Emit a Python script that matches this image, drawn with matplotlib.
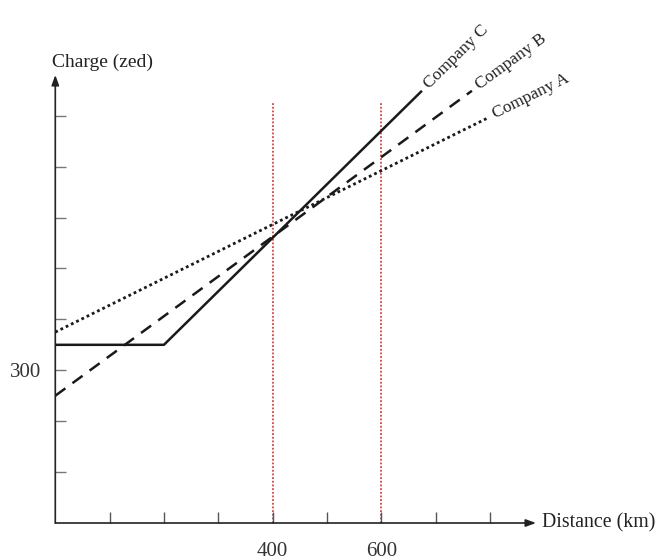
import matplotlib
matplotlib.use("Agg")
import matplotlib.pyplot as plt
import numpy as np

plt.rcParams['font.family'] = ['Liberation Serif', 'DejaVu Serif']

# Data
company_a_dist = [0, 795]
company_a_charge = [375, 795]
company_b_dist = [0, 767]
company_b_charge = [250, 849]
company_c_dist = [0, 200, 675]
company_c_charge = [350, 350, 849]
ref_distances = [400, 600]
ref_top = 825
x_ticks = [100, 200, 300, 400, 500, 600, 700, 800]
y_ticks = [100, 200, 300, 400, 500, 600, 700, 800]
x_labels = {400: "400", 600: "600"}
y_labels = {300: "300"}
labels = ["Company A", "Company B", "Company C"]

W, H = 656, 560
fig = plt.figure(figsize=(W / 100, H / 100), dpi=100)
x0, x1 = 55.3, 536
y0, y1 = 523, 75
ax = fig.add_axes([x0 / W, (H - y0) / H, (x1 - x0) / W, (y0 - y1) / H])
xmax, ymax = 885, 880
ax.set_xlim(0, xmax)
ax.set_ylim(0, ymax)

for s in ax.spines.values():
    s.set_visible(False)

# axes with arrows
ax.annotate('', xy=(1, 0), xytext=(0, 0), xycoords='axes fraction',
            arrowprops=dict(arrowstyle='-|>,head_length=0.6,head_width=0.22', color='#222222', lw=1.2,
                            shrinkA=0, shrinkB=0))
ax.annotate('', xy=(0, 1), xytext=(0, 0), xycoords='axes fraction',
            arrowprops=dict(arrowstyle='-|>,head_length=0.6,head_width=0.22', color='#222222', lw=1.2,
                            shrinkA=0, shrinkB=0))

# ticks
ax.set_xticks(x_ticks)
ax.set_xticklabels([x_labels.get(t, "") for t in x_ticks], fontsize=15, color='#333333')
ax.set_yticks(y_ticks)
ax.set_yticklabels([y_labels.get(t, "") for t in y_ticks], fontsize=15, color='#333333')
ax.tick_params(axis='x', direction='in', length=8, width=1.0, color='#555555', pad=14)
ax.tick_params(axis='y', direction='in', length=8, width=1.0, color='#777777', pad=10)

# reference lines
for d in ref_distances:
    ax.plot([d, d], [0, ref_top], color='#d42020', lw=1.1, ls=(0, (1.2, 1.2)), zorder=1)

lw = 1.8
ax.plot(company_c_dist, company_c_charge, color='#1a1a1a', lw=lw, solid_capstyle='butt', zorder=3)
ax.plot(company_b_dist, company_b_charge, color='#1a1a1a', lw=lw, ls=(0, (5, 3.5)), zorder=3)
ax.plot(company_a_dist, company_a_charge, color='#1a1a1a', lw=2.0, ls=(0, (1, 1.1)), zorder=3)

# labels along lines
def slope_angle(xs, ys):
    p1 = ax.transData.transform((xs[-2], ys[-2]))
    p2 = ax.transData.transform((xs[-1], ys[-1]))
    return np.degrees(np.arctan2(p2[1] - p1[1], p2[0] - p1[0]))

for name, xs, ys in [("Company A", company_a_dist, company_a_charge),
                     ("Company B", company_b_dist, company_b_charge),
                     ("Company C", company_c_dist, company_c_charge)]:
    ang = slope_angle(xs, ys)
    off = 5
    ax.annotate(name, xy=(xs[-1], ys[-1]),
                xytext=(off * np.cos(np.radians(ang)), off * np.sin(np.radians(ang))),
                textcoords='offset points', rotation=ang, rotation_mode='anchor',
                ha='left', va='center', fontsize=12.5, color='#222222', annotation_clip=False)

fig.text(542 / W, 1 - 523 / H, "Distance (km)", fontsize=14.3, color='#222222', ha='left', va='center')
fig.text(102 / W, 1 - 62 / H, "Charge (zed)", fontsize=14, color='#222222', ha='center', va='center')

fig.savefig("out.png", dpi=100)
